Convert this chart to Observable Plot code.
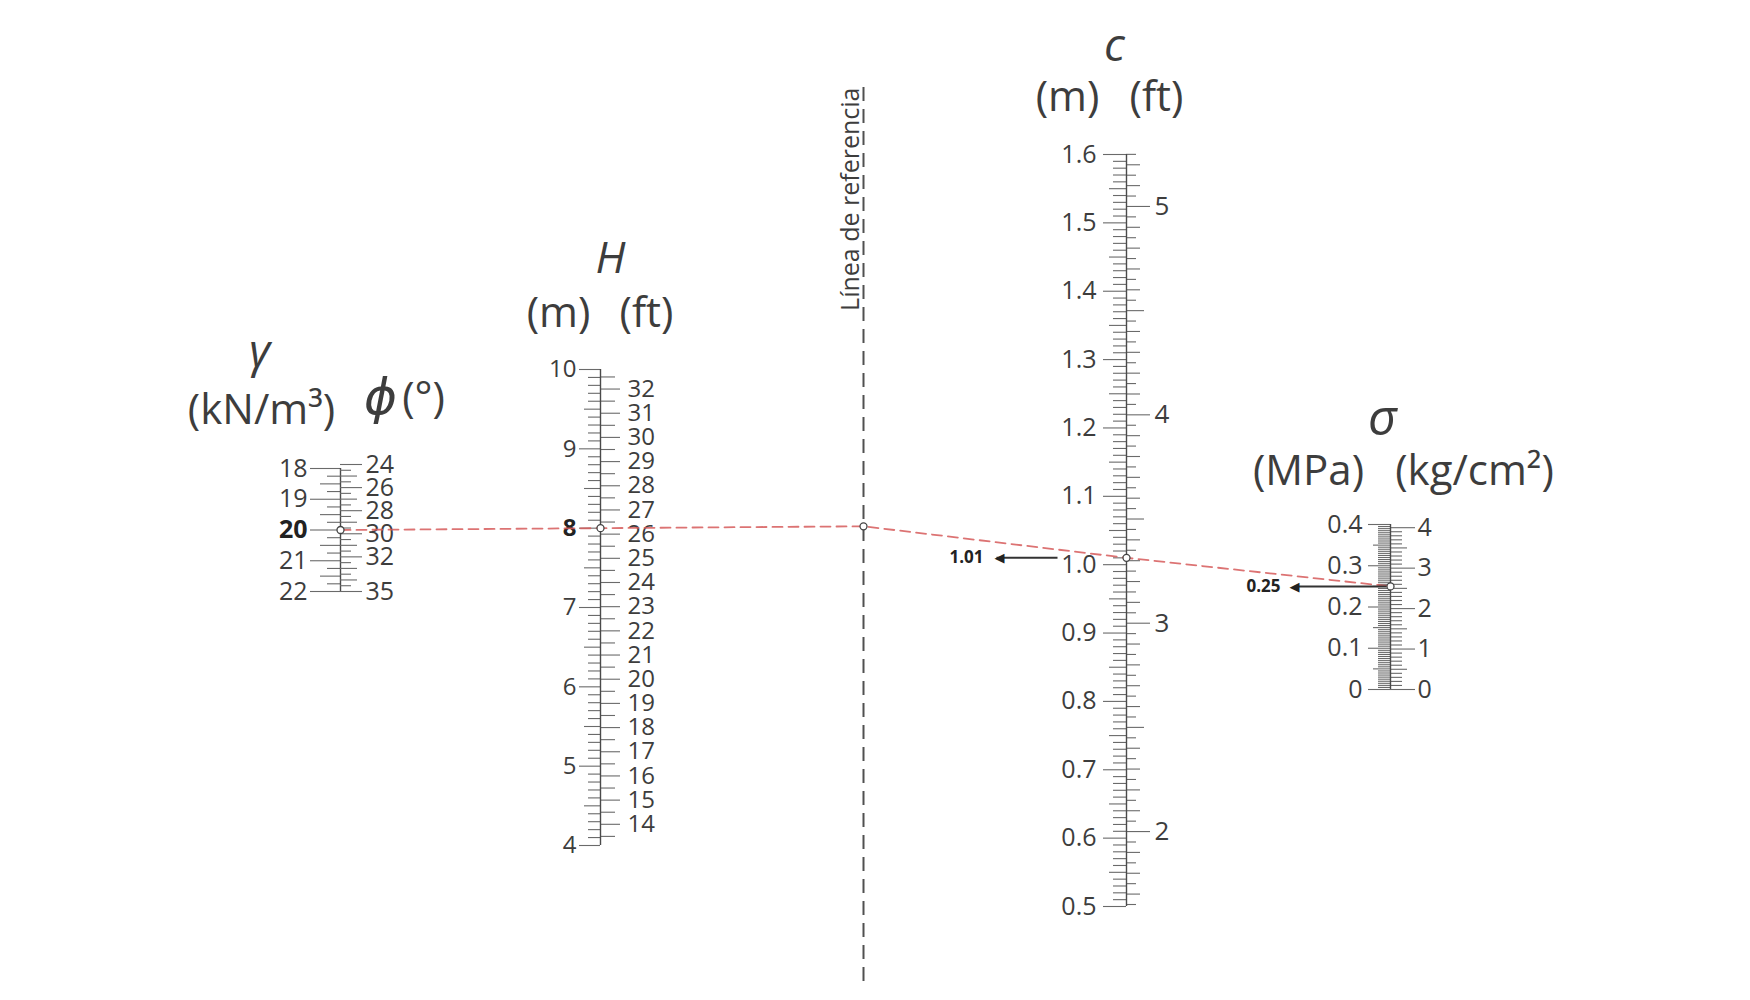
<!DOCTYPE html>
<html><head><meta charset="utf-8">
<script src="https://cdn.jsdelivr.net/npm/d3@7"></script>
<script src="https://cdn.jsdelivr.net/npm/@observablehq/plot@0.6"></script>
<style>
html,body{margin:0;padding:0;background:#fff;}
#chart{position:relative;width:1750px;height:1000px;background:#fff;overflow:hidden;}
#chart svg{position:absolute;left:0;top:0;}
</style></head>
<body><div id="chart"></div>
<script>
// ---------- data (tick labels of each scale and the worked example) ----------
const gammaLabels = [18, 19, 20, 21, 22];          // kN/m³
const phiLabels = [24, 26, 28, 30, 32, 35];         // degrees
const hMeterLabels = [4, 5, 6, 7, 8, 9, 10];        // m
const hFeetLabels = [14, 15, 16, 17, 18, 19, 20, 21, 22, 23, 24, 25, 26, 27, 28, 29, 30, 31, 32]; // ft
const cMeterLabels = [0.5, 0.6, 0.7, 0.8, 0.9, 1.0, 1.1, 1.2, 1.3, 1.4, 1.5, 1.6]; // m
const cFeetLabels = [2, 3, 4, 5];                   // ft
const sigmaMPaLabels = [0, 0.1, 0.2, 0.3, 0.4];     // MPa
const sigmaKgLabels = [0, 1, 2, 3, 4];              // kg/cm²
const inputGamma = 20;
const inputPhi = 30;
const inputH = 8;
const resultC = 1.01;
const resultSigma = 0.25;

// ---------- layout ----------
const W = 1750, HGT = 1000;
const FONT = "'Open Sans', 'Noto Sans', sans-serif";
const INK = "#3d3d3d", TICK = "#6a6a6a", SPINE = "#4a4a4a";
const FT = 0.3048, KG = 0.0980665;
const X = {gamma: 340, H: 600, ref: 863, c: 1126, sigma: 1390};

const near = (v, m) => Math.abs(v / m - Math.round(v / m)) < 1e-6;
function tickSet(start, stop, step, lenFn, conv = 1) {
  const n = Math.round((stop - start) / step);
  return d3.range(n + 1).map(i => {
    const u = start + i * step;
    return {v: u * conv, len: lenFn(u)};
  });
}

function axisPlot({cx, domain, range, ticksL = [], ticksR = [], labelsL = [], labelsR = [], offL, offR, fsL, fsR, fmtL = d => String(d), fmtR = d => String(d), boldL = null, conv = 1, spine = true}) {
  const normalL = labelsL.filter(d => d !== boldL);
  const bL = labelsL.filter(d => d === boldL);
  const marks = [
    Plot.ruleY(ticksL, {y: "v", x1: d => cx - d.len, x2: () => cx, stroke: TICK, strokeWidth: 1.1}),
    Plot.ruleY(ticksR, {y: "v", x1: () => cx, x2: d => cx + d.len, stroke: TICK, strokeWidth: 1.1}),
    Plot.text(normalL, {x: () => cx - offL, y: d => d, text: fmtL, textAnchor: "end", fontSize: fsL, fill: INK, fontFamily: FONT}),
    Plot.text(bL, {x: () => cx - offL, y: d => d, text: fmtL, textAnchor: "end", fontSize: fsL, fontWeight: "bold", fill: "#222", fontFamily: FONT}),
    Plot.text(labelsR, {x: () => cx + offR, y: d => d * conv, text: fmtR, textAnchor: "start", fontSize: fsR, fill: INK, fontFamily: FONT})
  ];
  if (spine) marks.push(Plot.ruleX([cx], {x: d => d, y1: () => domain[0], y2: () => domain[1], stroke: SPINE, strokeWidth: 1.4}));
  return Plot.plot({
    width: W, height: HGT, margin: 0,
    x: {domain: [0, W], range: [0, W], axis: null},
    y: {domain, range, axis: null},
    style: {background: "transparent", overflow: "visible"},
    marks
  });
}

// γ (left) / φ (right)
const gammaPlot = axisPlot({
  cx: X.gamma, domain: [18, 22], range: [468, 591],
  ticksL: tickSet(18, 22, 0.25, u => near(u, 1) ? 30 : near(u, 0.5) ? 20 : 13),
  labelsL: gammaLabels, offL: 33, fsL: 25, boldL: inputGamma
});
const phiPlot = axisPlot({
  cx: X.gamma, domain: [24, 35], range: [464, 591], spine: false,
  ticksR: tickSet(24, 35, 0.5, u => phiLabels.includes(u) ? 22 : near(u, 1) ? 17 : 11),
  labelsR: phiLabels, offR: 25, fsR: 25
});
// H: m (left) / ft (right)
const hPlot = axisPlot({
  cx: X.H, domain: [4, 10], range: [845, 369],
  ticksL: tickSet(4, 10, 0.1, u => near(u, 1) ? 21 : near(u, 0.5) ? 16 : 12),
  ticksR: tickSet(13.5, 32.5, 0.5, u => near(u, 1) ? 20 : 15, FT),
  labelsL: hMeterLabels, labelsR: hFeetLabels, conv: FT, offL: 24, offR: 27, fsL: 24, fsR: 24, boldL: inputH
});
// c: m (left) / ft (right)
const cPlot = axisPlot({
  cx: X.c, domain: [0.5, 1.6], range: [906, 154],
  ticksL: tickSet(0.5, 1.6, 0.01, u => near(u, 0.1) ? 23 : near(u, 0.05) ? 17 : 13),
  ticksR: tickSet(1.65, 5.25, 0.05, u => near(u, 1) ? 24 : near(u, 0.5) ? 18 : near(u, 0.1) ? 14 : 10, FT),
  labelsL: cMeterLabels, labelsR: cFeetLabels, conv: FT, offL: 30, offR: 28, fsL: 25, fsR: 26,
  fmtL: d => d.toFixed(1)
});
// σ: MPa (left) / kg/cm² (right)
const sigmaPlot = axisPlot({
  cx: X.sigma, domain: [0, 0.4], range: [689, 524],
  ticksL: tickSet(0, 0.4, 0.005, u => near(u, 0.1) ? 22 : near(u, 0.05) ? 17 : 12),
  ticksR: tickSet(0, 4, 0.1, u => near(u, 1) ? 25 : near(u, 0.5) ? 17 : 12, KG),
  labelsL: sigmaMPaLabels, labelsR: sigmaKgLabels, conv: KG, offL: 28, offR: 27, fsL: 25, fsR: 25
});

// read positions back from each plot's own y scale
function yOf(p, v) {
  const s = p.scale("y");
  return s.apply ? s.apply(v) : d3.scaleLinear(s.domain, s.range)(v);
}
const pG = {x: X.gamma, y: yOf(gammaPlot, inputGamma)};
const pH = {x: X.H, y: yOf(hPlot, inputH)};
const pRef = {x: X.ref, y: pG.y + (pH.y - pG.y) * (X.ref - pG.x) / (pH.x - pG.x)};
const pC = {x: X.c, y: yOf(cPlot, resultC)};
const pS = {x: X.sigma, y: yOf(sigmaPlot, resultSigma)};
const path = [pG, pH, pRef, pC, pS];

const txt = (data, o) => Plot.text(data, {x: "x", y: "y", text: "t", fill: INK, fontFamily: FONT, ...o});
const overlay = Plot.plot({
  width: W, height: HGT, margin: 0,
  x: {type: "identity", axis: null}, y: {type: "identity", axis: null},
  style: {background: "transparent", overflow: "visible"},
  marks: [
    // reference line
    Plot.ruleX([X.ref], {x: d => d, y1: () => 87, y2: () => 982, stroke: "#505050", strokeWidth: 2, strokeDasharray: "14,8"}),
    Plot.text(["Línea de referencia"], {x: () => 850, y: () => 87, text: d => d, rotate: -90, textAnchor: "end", fontSize: 25, fill: INK, fontFamily: FONT}),
    // solution line
    Plot.line(path, {x: "x", y: "y", stroke: "#d65a5a", strokeOpacity: 0.85, strokeWidth: 1.8, strokeDasharray: "10,6"}),
    // arrows with readings
    Plot.link([{x1: 1057, x2: 996, y: pC.y}], {x1: "x1", x2: "x2", y1: "y", y2: "y", stroke: "#333", strokeWidth: 2}),
    Plot.text([{x: 999, y: pC.y}], {x: "x", y: "y", text: () => "◀", fontSize: 13, fill: "#222", fontFamily: "DejaVu Sans", textAnchor: "middle"}),
    Plot.text([{x: 983, y: pC.y, t: String(resultC)}], {x: "x", y: "y", text: "t", fontSize: 17, fontWeight: "bold", fill: "#222", fontFamily: FONT, textAnchor: "end"}),
    Plot.link([{x1: X.sigma - 4, x2: 1295, y: pS.y}], {x1: "x1", x2: "x2", y1: "y", y2: "y", stroke: "#333", strokeWidth: 2}),
    Plot.text([{x: 1294, y: pS.y}], {x: "x", y: "y", text: () => "◀", fontSize: 13, fill: "#222", fontFamily: "DejaVu Sans", textAnchor: "middle"}),
    Plot.text([{x: 1280, y: pS.y, t: String(resultSigma)}], {x: "x", y: "y", text: "t", fontSize: 17, fontWeight: "bold", fill: "#222", fontFamily: FONT, textAnchor: "end"}),
    // markers
    Plot.dot(path, {x: "x", y: "y", r: 3.5, fill: "white", stroke: "#444", strokeWidth: 1.3}),
    // titles
    txt([{x: 259, y: 352, t: "γ"}], {fontSize: 46, fontStyle: "italic"}),
    txt([{x: 261, y: 410, t: "(kN/m³)"}], {fontSize: 42}),
    txt([{x: 380, y: 397, t: "ϕ"}], {fontSize: 50, fontStyle: "italic", fontFamily: "'DejaVu Sans', sans-serif"}),
    txt([{x: 423, y: 398, t: "(°)"}], {fontSize: 42}),
    txt([{x: 610, y: 258, t: "H"}], {fontSize: 44, fontStyle: "italic"}),
    txt([{x: 558, y: 313, t: "(m)"}], {fontSize: 42}),
    txt([{x: 646, y: 313, t: "(ft)"}], {fontSize: 42}),
    txt([{x: 1114, y: 46, t: "c"}], {fontSize: 46, fontStyle: "italic"}),
    txt([{x: 1067, y: 97, t: "(m)"}], {fontSize: 42}),
    txt([{x: 1156, y: 97, t: "(ft)"}], {fontSize: 42}),
    txt([{x: 1382, y: 418, t: "σ"}], {fontSize: 50, fontStyle: "italic"}),
    txt([{x: 1308, y: 471, t: "(MPa)"}], {fontSize: 42}),
    txt([{x: 1474, y: 471, t: "(kg/cm²)"}], {fontSize: 42})
  ]
});

const root = document.getElementById("chart");
[gammaPlot, phiPlot, hPlot, cPlot, sigmaPlot, overlay].forEach(p => root.appendChild(p));
</script>
</body></html>
